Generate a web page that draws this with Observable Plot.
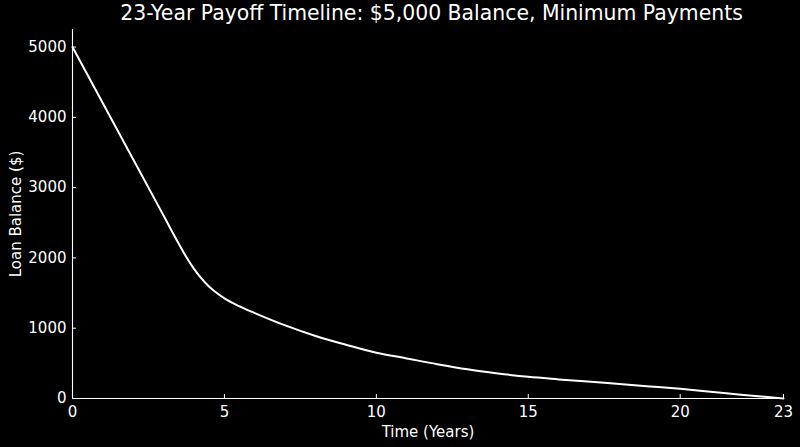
<!DOCTYPE html>
<html>
<head>
<meta charset="utf-8">
<script src="https://cdn.jsdelivr.net/npm/d3@7"></script>
<script src="https://cdn.jsdelivr.net/npm/@observablehq/plot@0.6"></script>
<style>
  html, body { margin: 0; padding: 0; background: #000; }
  #wrap { width: 800px; height: 447px; background: #000; overflow: hidden; }
  #title { height: 26px; line-height: 26px; font-family: "DejaVu Sans", sans-serif; font-size: 20.4px; color: #fff; text-align: center; padding-left: 63px; white-space: nowrap; }
</style>
</head>
<body>
<div id="wrap">
  <div id="title">23-Year Payoff Timeline: $5,000 Balance, Minimum Payments</div>
  <div id="chart"></div>
</div>
<script>
const years   = [0, 1, 2, 3, 3.5, 3.75, 4, 4.25, 4.5, 4.75, 5, 5.5, 6, 7, 8, 9, 10, 11, 12, 13, 14, 15, 16, 17.5, 19, 20, 21, 22, 23.4];
const balance = [5000, 4200, 3400, 2600, 2200, 2010, 1845, 1705, 1590, 1500, 1425, 1310, 1215, 1040, 890, 765, 652, 570, 488, 415, 357, 308, 272, 223, 172, 137, 96, 55, 0];
const xTickValues = [0, 5, 10, 15, 20, 23.4];
const xTickLabels = ["0", "5", "10", "15", "20", "23"];
const yTickValues = [0, 1000, 2000, 3000, 4000, 5000];

const data = years.map((t, i) => ({t, b: balance[i]}));

const chart = Plot.plot({
  width: 800,
  height: 421,
  marginTop: 3,
  marginBottom: 49,
  marginLeft: 72,
  marginRight: 17,
  style: {background: "#000", color: "#fff", fontFamily: "DejaVu Sans, sans-serif", fontSize: "15px"},
  x: {domain: [0, 23.4]},
  y: {domain: [0, 5250]},
  marks: [
    Plot.axisX({ticks: xTickValues, tickFormat: (d) => xTickLabels[xTickValues.indexOf(d)], tickSize: -4, tickPadding: 12, label: "Time (Years)", labelAnchor: "center", labelArrow: "none", labelOffset: 38, stroke: "#fff", fontSize: 15}),
    Plot.axisY({ticks: yTickValues, tickFormat: d => String(d), tickSize: -4, tickPadding: 10, label: "Loan Balance ($)", labelAnchor: "center", labelArrow: "none", labelOffset: 62, stroke: "#fff", fontSize: 15}),
    Plot.ruleX([0], {stroke: "#fff", strokeWidth: 1.1}),
    Plot.ruleY([0], {stroke: "#fff", strokeWidth: 1.1}),
    Plot.line(data, {x: "t", y: "b", stroke: "#fff", strokeWidth: 2, curve: "monotone-x"})
  ]
});
document.getElementById("chart").appendChild(chart);
</script>
</body>
</html>
